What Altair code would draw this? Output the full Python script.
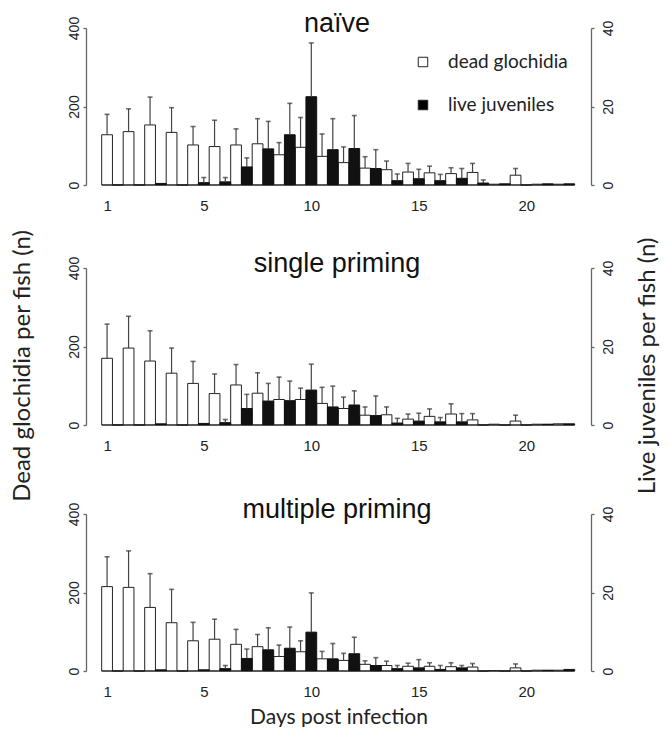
import altair as alt
import pandas as pd

days = list(range(1, 23))
groups = ["naïve", "single priming", "multiple priming"]
series = ["dead glochidia", "live juveniles"]
y_titles = ["Dead glochidia per fish (n)", "Live juveniles per fish (n)"]
x_title = "Days post infection"

naive_dead = [128, 136, 153, 134, 102, 98, 102, 105, 77, 96, 73, 57, 43, 39, 33, 31, 29, 32, 2, 25, 2, 2]
naive_dead_upper = [180, 194, 224, 197, 149, 165, 143, 169, 108, 172, 130, 97, 72, 61, 55, 48, 44, 55, 2, 42, 2, 2]
naive_live = [0, 0, 0.4, 0, 0.6, 0.8, 4.6, 9.2, 12.8, 22.5, 9.0, 9.3, 4.2, 1.1, 1.6, 1.1, 1.7, 0.5, 0.3, 0, 0.3, 0.3]
naive_live_upper = [0, 0, 0.4, 0, 1.9, 1.9, 6.9, 16.2, 20.8, 36.2, 16.9, 17.7, 9.0, 2.8, 4.0, 2.7, 4.2, 1.3, 0.3, 0, 0.3, 0.3]

single_dead = [170, 196, 163, 132, 106, 80, 102, 81, 65, 65, 55, 42, 25, 26, 15, 22, 28, 13, 2, 10, 2, 3]
single_dead_upper = [257, 277, 240, 196, 162, 130, 154, 133, 122, 94, 96, 71, 46, 46, 28, 41, 54, 29, 2, 25, 2, 3]
single_live = [0, 0, 0.3, 0, 0.4, 0.6, 4.2, 6.1, 6.2, 8.9, 4.6, 5.1, 2.4, 0.5, 1.0, 0.8, 0.8, 0, 0, 0, 0.2, 0.3]
single_live_upper = [0, 0, 0.3, 0, 0.4, 1.4, 7.8, 10.6, 11.2, 15.5, 9.9, 8.7, 7.4, 1.7, 3.0, 1.9, 2.9, 0, 0, 0, 0.2, 0.3]

multi_dead = [215, 213, 162, 123, 77, 81, 68, 62, 37, 49, 31, 27, 17, 14, 12, 12, 11, 10, 1, 8, 2, 2]
multi_dead_upper = [291, 306, 248, 208, 124, 132, 106, 93, 66, 77, 50, 45, 26, 25, 20, 21, 21, 19, 1, 18, 2, 2]
multi_live = [0, 0, 0.3, 0, 0.3, 0.6, 3.2, 5.4, 5.8, 9.9, 3.1, 4.4, 1.4, 0.6, 0.8, 0.4, 0.8, 0, 0, 0, 0.2, 0.4]
multi_live_upper = [0, 0, 0.3, 0, 0.3, 1.4, 5.6, 11.0, 11.2, 19.9, 7.0, 8.6, 3.4, 1.4, 2.9, 1.4, 1.4, 0, 0, 0, 0.2, 0.4]

x_tick_values = [0.75, 5.25, 10.25, 15.25, 20.25]
left_ticks = [0, 200, 400]
right_ticks = [0, 20, 40]

W = 505
H = 157
TXT = "#222222"
AX = "#666666"
SANS = "Liberation Sans"
CAL = "Lato"

xscale = alt.Scale(domain=[-0.23, 23.26], nice=False, zero=False)
yl = alt.Scale(domain=[0, 400], nice=False, zero=True)
yr = alt.Scale(domain=[0, 40], nice=False, zero=True)


def panel(title, dead, dead_up, live, live_up, legend=False, xtitle=None):
    df = pd.DataFrame({"day": days, "dead": dead, "dead_up": dead_up,
                       "live": live, "live_up": live_up})
    base = alt.Chart(df).transform_calculate(
        d0="datum.day - 0.5", mid="datum.day", l1="datum.day + 0.5",
        dc="datum.day - 0.25", lc="datum.day + 0.25", zero="0")

    xaxis = alt.Axis(values=x_tick_values, labelExpr="format(round(datum.value), 'd')",
                     domain=False, ticks=False, tickSize=0, grid=False,
                     labelFont=SANS, labelFontSize=15, labelColor=TXT, labelPadding=13,
                     title=xtitle if xtitle else None,
                     titleFont=CAL, titleFontSize=21, titleFontWeight="normal",
                     titleColor=TXT, titlePadding=7)
    laxis = alt.Axis(values=left_ticks, orient="left", grid=False, domainColor=AX,
                     domainWidth=1.3, tickColor=AX, tickWidth=1.3, tickSize=3,
                     labelAngle=270, labelAlign="center", labelBaseline="bottom",
                     labelFont=SANS, labelFontSize=14, labelColor=TXT, labelPadding=2,
                     title=None)
    raxis = alt.Axis(values=right_ticks, orient="right", grid=False, domainColor=AX,
                     domainWidth=1.3, tickColor=AX, tickWidth=1.3, tickSize=3,
                     labelAngle=270, labelAlign="center", labelBaseline="top",
                     labelFont=SANS, labelFontSize=14, labelColor=TXT, labelPadding=7,
                     title=None)

    def X(f):
        return alt.X(f, scale=xscale, axis=xaxis)

    dead_bars = base.mark_rect(fill="white", stroke="#222222", strokeWidth=1).encode(
        x=X("d0:Q"), x2="mid:Q",
        y=alt.Y("dead:Q", scale=yl, axis=laxis), y2="zero:Q")
    dead_err = base.transform_filter("datum.dead_up > datum.dead").mark_rule(
        color="#444444", strokeWidth=1.2).encode(
        x=X("dc:Q"), y=alt.Y("dead:Q", scale=yl, axis=laxis), y2="dead_up:Q")
    dead_cap = base.transform_filter("datum.dead_up > datum.dead").mark_tick(
        orient="horizontal", size=5, thickness=1.6, color="#333333").encode(
        x=X("dc:Q"), y=alt.Y("dead_up:Q", scale=yl, axis=laxis))
    bl = pd.DataFrame({"xs": [days[0] - 0.5], "xe": [days[-1] + 0.5]})
    baseline = alt.Chart(bl).mark_rule(color="#222222", strokeWidth=1.2).encode(
        x=X("xs:Q"), x2="xe:Q", y=alt.datum(0))
    dead_layer = alt.layer(dead_bars, dead_err, dead_cap, baseline)

    live_bars = base.mark_rect(fill="#111111", stroke="#111111", strokeWidth=1).encode(
        x=X("mid:Q"), x2="l1:Q",
        y=alt.Y("live:Q", scale=yr, axis=raxis), y2="zero:Q")
    live_err = base.transform_filter("datum.live_up > datum.live").mark_rule(
        color="#444444", strokeWidth=1.2).encode(
        x=X("lc:Q"), y=alt.Y("live:Q", scale=yr, axis=raxis), y2="live_up:Q")
    live_cap = base.transform_filter("datum.live_up > datum.live").mark_tick(
        orient="horizontal", size=5, thickness=1.6, color="#333333").encode(
        x=X("lc:Q"), y=alt.Y("live_up:Q", scale=yr, axis=raxis))
    live_layer = alt.layer(live_bars, live_err, live_cap)

    tdf = pd.DataFrame({"label": [title]})
    ttl = alt.Chart(tdf).mark_text(font=SANS, fontSize=27, color="#111111",
                                   baseline="alphabetic", align="center").encode(
        x=alt.value(251), y=alt.value(4), text="label:N")
    layers = [dead_layer, live_layer, ttl]

    if legend:
        for i, (name, fill) in enumerate(zip(series, ["white", "black"])):
            ldf = pd.DataFrame({"label": [name]})
            yy = 34 + i * 43
            sq = alt.Chart(ldf).mark_square(size=90, fill=fill, stroke="#222222",
                                            strokeWidth=1, opacity=1).encode(
                x=alt.value(337), y=alt.value(yy))
            tx = alt.Chart(ldf).mark_text(font=CAL, fontSize=19, color=TXT,
                                          align="left", baseline="middle").encode(
                x=alt.value(362), y=alt.value(yy), text="label:N")
            layers += [sq, tx]

    return alt.layer(*layers).resolve_scale(y="independent").properties(width=W, height=H)


def side_title(text, xpos, width):
    tdf = pd.DataFrame({"label": [text]})
    return alt.Chart(tdf).mark_text(font=CAL, fontSize=24, color=TXT, angle=270,
                                    align="center", baseline="middle").encode(
        x=alt.value(xpos), y=alt.value(338), text="label:N"
    ).properties(width=width, height=640)


p1 = panel(groups[0], naive_dead, naive_dead_upper, naive_live, naive_live_upper, legend=True)
p2 = panel(groups[1], single_dead, single_dead_upper, single_live, single_live_upper)
p3 = panel(groups[2], multi_dead, multi_dead_upper, multi_live, multi_live_upper, xtitle=x_title)

inner = alt.vconcat(alt.vconcat(p1, p2, spacing=37), p3, spacing=43)
left_t = side_title(y_titles[0], 13, 56)
right_t = side_title(y_titles[1], 33, 45)

chart = alt.hconcat(left_t, inner, right_t, spacing=0).properties(
    padding={"left": 2, "top": 2, "right": 0, "bottom": 0}
).configure_view(stroke=None, strokeWidth=0)

chart.save("out.html", embed_options={"renderer": "svg", "actions": False})
